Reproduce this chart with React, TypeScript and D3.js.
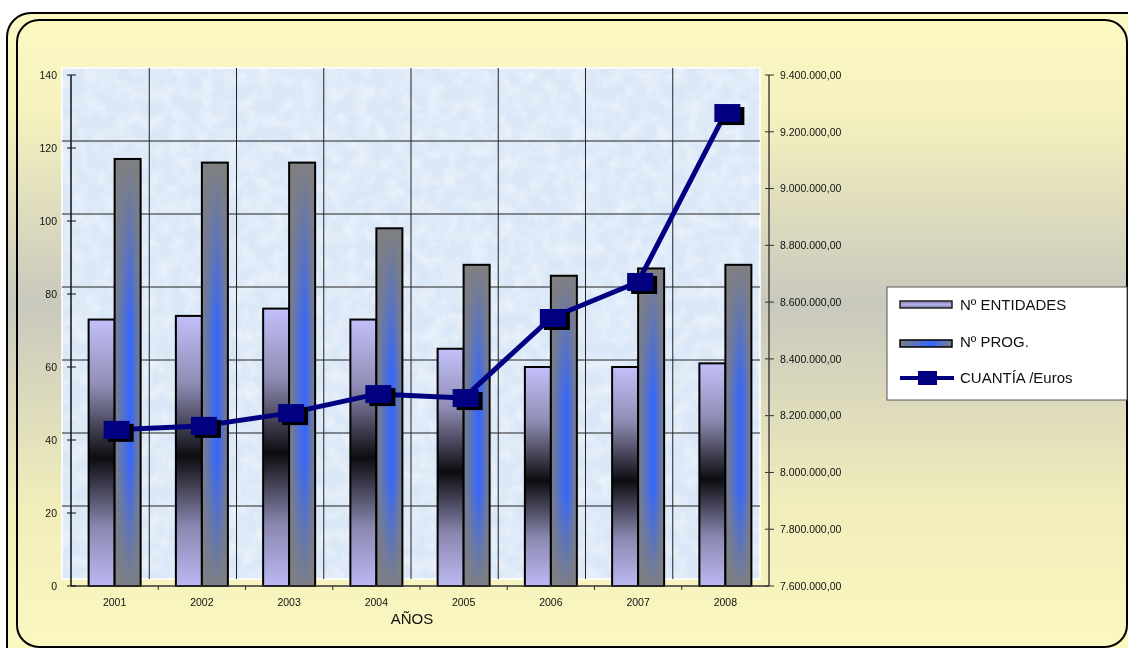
import React from "react";
import * as d3 from "d3";

const years = ["2001", "2002", "2003", "2004", "2005", "2006", "2007", "2008"];
const entidades = [73, 74, 76, 73, 65, 60, 60, 61];
const programas = [117, 116, 116, 98, 88, 85, 87, 88];
const cuantia = [8150000, 8164000, 8209000, 8276000, 8262000, 8544000, 8671000, 9266000];
const leftTicks = [0, 20, 40, 60, 80, 100, 120, 140];
const rightTicks = [7600000, 7800000, 8000000, 8200000, 8400000, 8600000, 8800000, 9000000, 9200000, 9400000];
const legendLabels = ["Nº ENTIDADES", "Nº PROG.", "CUANTÍA /Euros"];
const xTitle = "AÑOS";

const W = 1128;
const H = 648;
const x0 = 71, x1 = 769, yTop = 75, yBot = 586;
const DX = -9, DY = -7;
const FONT = "'Liberation Sans', Arial, sans-serif";

const esLocale = d3.formatLocale({ decimal: ",", thousands: ".", grouping: [3], currency: ["", "€"] });
const fmtEuro = esLocale.format(",.2f");

export default function App() {
  const x = d3.scaleBand<string>().domain(years).range([x0, x1]).paddingInner(0).paddingOuter(0);
  const yL = d3.scaleLinear().domain([0, 140]).range([yBot, yTop]);
  const yR = d3.scaleLinear().domain([7600000, 9400000]).range([yBot, yTop]);
  const bw = x.bandwidth() * 0.298;
  const cx = (y: string) => (x(y) as number) + x.bandwidth() / 2;

  const line = d3
    .line<number>()
    .x((_, i) => cx(years[i]))
    .y((d) => yR(d));

  const boundaries = years.slice(1).map((y) => x(y) as number);

  return (
    <svg
      width={W}
      height={H}
      style={{ position: "fixed", left: 0, top: 0, display: "block", fontFamily: FONT }}
    >
      <defs>
        <linearGradient id="bgGrad" x1="0" y1="0" x2="0" y2="1">
          <stop offset="0" stopColor="#fcf9c3" />
          <stop offset="0.15" stopColor="#f5f2be" />
          <stop offset="0.44" stopColor="#c9c8bd" />
          <stop offset="0.75" stopColor="#f1eebb" />
          <stop offset="1" stopColor="#fcf9c0" />
        </linearGradient>
        <linearGradient id="entGrad" x1="0" y1="0" x2="0" y2="1">
          <stop offset="0" stopColor="#c3c0fa" />
          <stop offset="0.25" stopColor="#8f8cb4" />
          <stop offset="0.52" stopColor="#0c0c10" />
          <stop offset="0.78" stopColor="#8a88b0" />
          <stop offset="1" stopColor="#bcb9f3" />
        </linearGradient>
        <linearGradient id="progH" x1="0" y1="0" x2="1" y2="0">
          <stop offset="0" stopColor="#7f7f82" />
          <stop offset="0.6" stopColor="#3366ff" />
          <stop offset="1" stopColor="#7f7f82" />
        </linearGradient>
        <linearGradient id="progV" x1="0" y1="0" x2="0" y2="1">
          <stop offset="0" stopColor="#808080" stopOpacity="1" />
          <stop offset="0.4" stopColor="#808080" stopOpacity="0" />
          <stop offset="0.7" stopColor="#808080" stopOpacity="0" />
          <stop offset="1" stopColor="#808080" stopOpacity="0.95" />
        </linearGradient>
        <linearGradient id="legEnt" x1="0" y1="0" x2="0" y2="1">
          <stop offset="0" stopColor="#7c7aa8" />
          <stop offset="0.5" stopColor="#b3b0ea" />
          <stop offset="1" stopColor="#7c7aa8" />
        </linearGradient>
        <filter id="tex" x="0" y="0" width="100%" height="100%">
          <feTurbulence type="fractalNoise" baseFrequency="0.07" numOctaves="3" seed="5" result="n" />
          <feColorMatrix
            in="n"
            type="matrix"
            values="0 0 0 0 1  0 0 0 0 1  0 0 0 0 1  1.6 0 0 0 -0.55"
          />
        </filter>
      </defs>

      {/* outer frame */}
      <rect x={7} y={13} width={1145} height={660} rx={24} fill="url(#bgGrad)" stroke="#000" strokeWidth={2} />
      <rect x={17} y={20} width={1110} height={627} rx={22} fill="none" stroke="#000" strokeWidth={2} />

      {/* plot background */}
      <rect x={x0 + DX} y={yTop + DY} width={x1 - x0} height={yBot - yTop} fill="#dae7f7" stroke="#ffffff" strokeWidth={1.5} />
      <rect x={x0 + DX} y={yTop + DY} width={x1 - x0} height={yBot - yTop} fill="#fff" filter="url(#tex)" opacity={0.55} />

      {/* grid lines */}
      {leftTicks.slice(1, -1).map((t) => (
        <line key={"hg" + t} x1={x0 + DX} x2={x1 + DX} y1={yL(t) + DY} y2={yL(t) + DY} stroke="#222" strokeWidth={1} />
      ))}
      {boundaries.map((b, i) => (
        <line key={"vg" + i} x1={b + DX} x2={b + DX} y1={yTop + DY} y2={yBot + DY} stroke="#222" strokeWidth={1} />
      ))}

      {/* bars */}
      {years.map((yr, i) => {
        const c = cx(yr);
        const ye = yL(entidades[i]);
        const yp = yL(programas[i]);
        return (
          <g key={"b" + yr}>
            <rect x={c - bw} y={ye} width={bw} height={yBot - ye} fill="url(#entGrad)" stroke="#000" strokeWidth={2} />
            <rect x={c} y={yp} width={bw} height={yBot - yp} fill="url(#progH)" />
            <rect x={c} y={yp} width={bw} height={yBot - yp} fill="url(#progV)" stroke="#000" strokeWidth={2} />
          </g>
        );
      })}

      {/* x axis */}
      <line x1={x0} x2={x1} y1={yBot} y2={yBot} stroke="#333" strokeWidth={1.5} />
      {boundaries.map((b, i) => (
        <line key={"xt" + i} x1={b} x2={b} y1={yBot} y2={yBot + 4} stroke="#333" strokeWidth={1} />
      ))}
      {years.map((yr) => (
        <text key={"xl" + yr} x={cx(yr)} y={606} fontSize={10.5} textAnchor="middle" fill="#111">
          {yr}
        </text>
      ))}
      <text x={412} y={624} fontSize={15} textAnchor="middle" fill="#111">
        {xTitle}
      </text>

      {/* left axis */}
      <line x1={x0} x2={x0} y1={yTop} y2={yBot} stroke="#111" strokeWidth={1.5} />
      {leftTicks.map((t) => (
        <g key={"lt" + t}>
          <line x1={x0 - 4} x2={x0 + 5} y1={yL(t)} y2={yL(t)} stroke="#111" strokeWidth={1} />
          <text x={57} y={yL(t) + 3.8} fontSize={10.5} textAnchor="end" fill="#111">
            {t}
          </text>
        </g>
      ))}

      {/* right axis */}
      <line x1={x1} x2={x1} y1={yTop} y2={yBot} stroke="#444" strokeWidth={1.5} />
      {rightTicks.map((t) => (
        <g key={"rt" + t}>
          <line x1={x1 - 4} x2={x1 + 5} y1={yR(t)} y2={yR(t)} stroke="#333" strokeWidth={1} />
          <text x={780} y={yR(t) + 3.8} fontSize={10.5} fill="#111">
            {fmtEuro(t)}
          </text>
        </g>
      ))}

      {/* line series */}
      <path d={line(cuantia) || ""} fill="none" stroke="#000080" strokeWidth={5} strokeLinejoin="round" />
      {cuantia.map((v, i) => {
        const px = cx(years[i]) + 2;
        const py = yR(v);
        return (
          <g key={"m" + i}>
            <rect x={px - 13 + 4} y={py - 9 + 3} width={26} height={18} fill="#000" />
            <rect x={px - 13} y={py - 9} width={26} height={18} fill="#000080" />
          </g>
        );
      })}

      {/* legend */}
      <rect x={887} y={287} width={240} height={113} fill="#fff" stroke="#555" strokeWidth={1} />
      <rect x={900} y={301} width={52} height={7} fill="url(#legEnt)" stroke="#222" strokeWidth={1.5} />
      <rect x={900} y={340} width={52} height={7} fill="url(#progH)" stroke="#000" strokeWidth={1.5} />
      <line x1={900} x2={954} y1={378} y2={378} stroke="#000080" strokeWidth={4} />
      <rect x={918} y={371} width={19} height={14} fill="#000080" />
      {legendLabels.map((l, i) => (
        <text key={l} x={960} y={[310, 347, 383][i]} fontSize={15} fill="#111">
          {l}
        </text>
      ))}
    </svg>
  );
}
